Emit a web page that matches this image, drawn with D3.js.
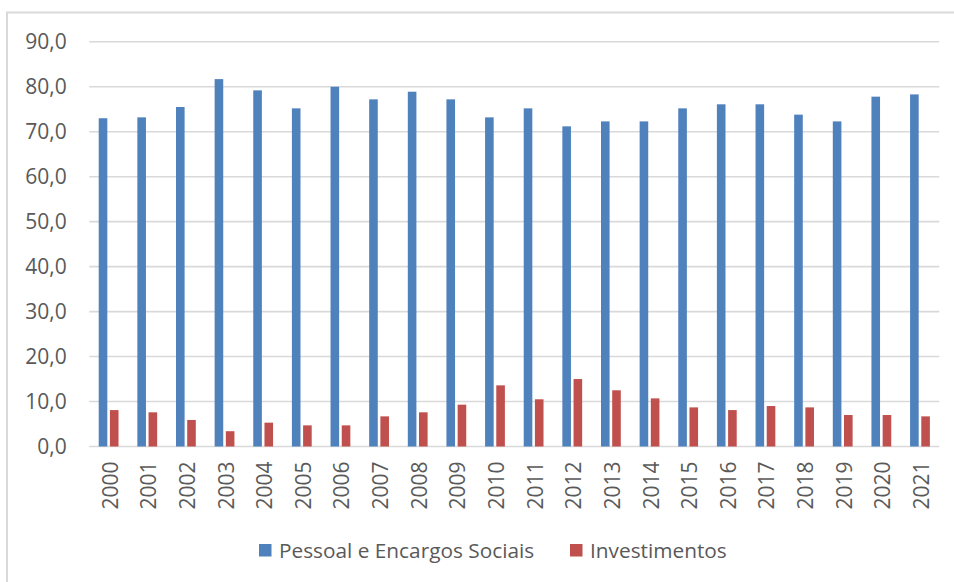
<!DOCTYPE html>
<html>
<head>
<meta charset="utf-8">
<script src="https://cdn.jsdelivr.net/npm/d3@7"></script>
<style>
  html, body { margin: 0; padding: 0; background: #fff; }
  svg { display: block; font-family: "Open Sans", sans-serif; }
</style>
</head>
<body>
<div id="chart"></div>
<script>
// data
const years = ['2000', '2001', '2002', '2003', '2004', '2005', '2006', '2007', '2008', '2009', '2010',
  '2011', '2012', '2013', '2014', '2015', '2016', '2017', '2018', '2019', '2020', '2021'];
const pessoal = [73.0, 73.2, 75.5, 81.7, 79.2, 75.2, 80.0, 77.2, 78.9, 77.2, 73.2,
  75.2, 71.2, 72.3, 72.3, 75.2, 76.1, 76.1, 73.8, 72.3, 77.8, 78.3];
const investimentos = [8.1, 7.6, 5.9, 3.4, 5.3, 4.7, 4.7, 6.7, 7.6, 9.3, 13.6,
  10.5, 15.0, 12.5, 10.7, 8.7, 8.1, 9.0, 8.7, 7.0, 7.0, 6.7];
const yTicks = [0, 10, 20, 30, 40, 50, 60, 70, 80, 90];
const seriesNames = ['Pessoal e Encargos Sociais', 'Investimentos'];
const seriesColors = ['#4f81bd', '#c0504d'];

const width = 954;
const height = 582;
const margin = {top: 41.8, right: 14.7, bottom: 135.5, left: 89.3};
const textColor = '#595959';

const svg = d3.select('#chart').append('svg')
  .attr('width', width)
  .attr('height', height)
  .attr('viewBox', [0, 0, width, height]);

// chart frame (only top and left edges show in the picture)
svg.append('path')
  .attr('d', `M7,${height} V12.5 H${width}`)
  .attr('fill', 'none')
  .attr('stroke', '#d9d9d9')
  .attr('stroke-width', 2);

const x = d3.scaleBand().domain(years).range([margin.left, width - margin.right]);
const y = d3.scaleLinear().domain([0, 90]).range([height - margin.bottom, margin.top]);

const barW = 8.6;
const gap = 2.6;

// gridlines
svg.append('g')
  .selectAll('line')
  .data(yTicks)
  .join('line')
  .attr('x1', margin.left)
  .attr('x2', width - margin.right)
  .attr('y1', (d) => y(d))
  .attr('y2', (d) => y(d))
  .attr('stroke', '#d9d9d9')
  .attr('stroke-width', 1.6);

// y axis labels
const yAxis = d3.axisLeft(y)
  .tickValues(yTicks)
  .tickSize(0)
  .tickPadding(22.6)
  .tickFormat((d) => d3.format('.1f')(d).replace('.', ','));
svg.append('g')
  .attr('transform', `translate(${margin.left},0)`)
  .call(yAxis)
  .call((g) => g.select('.domain').remove())
  .call((g) => g.selectAll('text')
    .attr('fill', textColor)
    .attr('font-size', 21)
    .attr('font-family', '"Open Sans", sans-serif'));

// bars
const series = [pessoal, investimentos];
series.forEach((values, s) => {
  svg.append('g')
    .attr('fill', seriesColors[s])
    .selectAll('rect')
    .data(values)
    .join('rect')
    .attr('x', (d, i) => x(years[i]) + x.bandwidth() / 2 + (s === 0 ? -gap / 2 - barW : gap / 2))
    .attr('y', (d) => y(d))
    .attr('width', barW)
    .attr('height', (d) => y(0) - y(d));
});

// x axis labels, rotated
const xAxis = d3.axisBottom(x).tickSize(0).tickPadding(0);
svg.append('g')
  .attr('transform', `translate(0,${y(0)})`)
  .call(xAxis)
  .call((g) => g.select('.domain').remove())
  .call((g) => g.selectAll('text')
    .attr('fill', textColor)
    .attr('font-size', 21)
    .attr('font-family', '"Open Sans", sans-serif')
    .attr('text-anchor', 'end')
    .attr('dy', null)
    .attr('dominant-baseline', 'central')
    .attr('transform', 'translate(1,15) rotate(-90)'));

// legend
const legendItems = [{x: 259, name: seriesNames[0], color: seriesColors[0]},
  {x: 570, name: seriesNames[1], color: seriesColors[1]}];
const legend = svg.append('g').selectAll('g').data(legendItems).join('g')
  .attr('transform', (d) => `translate(${d.x},544)`);
legend.append('rect')
  .attr('width', 12.5)
  .attr('height', 12.5)
  .attr('fill', (d) => d.color);
legend.append('text')
  .attr('x', 20)
  .attr('y', 13.8)
  .attr('fill', textColor)
  .attr('font-size', 20.8)
  .text((d) => d.name);
</script>
</body>
</html>
